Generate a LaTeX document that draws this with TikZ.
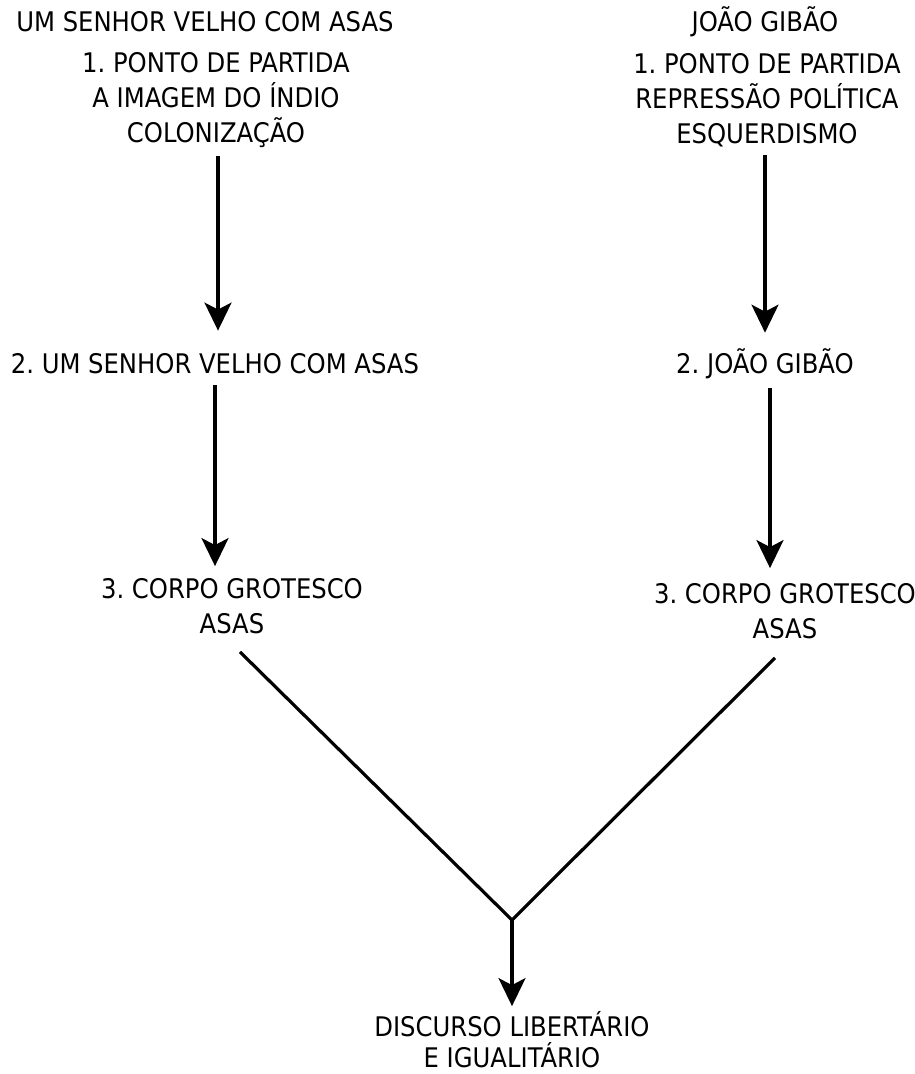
\documentclass[tikz,border=0pt]{standalone}
\usepackage{fontspec}
\setmainfont{DejaVu Sans Condensed}
\usetikzlibrary{arrows.meta}
\frenchspacing
\tikzset{
  lbl/.style={align=center, inner sep=0pt, font=\fontsize{27}{35}\selectfont, text=black},
  arr/.style={line width=3.2pt, -{Stealth[length=28pt, width=27pt, inset=7pt]}},
  ln/.style={line width=3.2pt},
}
\begin{document}
\frenchspacing
\begin{tikzpicture}[x=1pt,y=-1pt]
\useasboundingbox (0,0) rectangle (915,1074);
\node[lbl] (lt) at (205,22) {UM SENHOR VELHO COM ASAS};
\node[lbl] (l1) at (216,100) {1. PONTO DE PARTIDA\\A IMAGEM DO ÍNDIO\\COLONIZAÇÃO};
\node[lbl] (l2) at (215,364) {2. UM SENHOR VELHO COM ASAS};
\node[lbl] (l3) at (232,606) {3. CORPO GROTESCO\\ASAS};
\node[lbl] (rt) at (765,22) {JOÃO GIBÃO};
\node[lbl] (r1) at (767,100) {1. PONTO DE PARTIDA\\REPRESSÃO POLÍTICA\\ESQUERDISMO};
\node[lbl] (r2) at (765,364) {2. JOÃO GIBÃO};
\node[lbl] (r3) at (785,611) {3. CORPO GROTESCO\\ASAS};
\node[lbl, font=\fontsize{27}{31}\selectfont] (f) at (512,1040) {DISCURSO LIBERTÁRIO\\E IGUALITÁRIO};
\coordinate (j) at (512,920);
\draw[arr] ([xshift=2pt,yshift=-8pt]l1.south) -- ([xshift=3pt,yshift=23pt]l2.north);
\draw[arr] ([yshift=-11pt]l2.south) -- ([xshift=-17pt,yshift=12pt]l3.north);
\draw[arr] ([xshift=-2pt,yshift=-8pt]r1.south) -- ([yshift=16pt]r2.north);
\draw[arr] ([xshift=5pt,yshift=-9pt]r2.south) -- ([xshift=-15pt,yshift=15pt]r3.north);
\draw[ln] ([xshift=8pt,yshift=-18pt]l3.south) -- (j);
\draw[ln] ([xshift=-10pt,yshift=-19pt]r3.south) -- (j);
\draw[arr] (j) -- ([yshift=5.5pt]f.north);
\end{tikzpicture}
\end{document}
